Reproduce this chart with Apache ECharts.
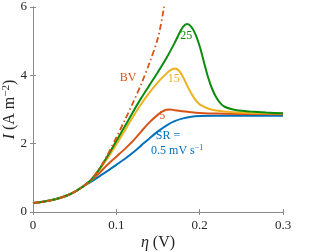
<!DOCTYPE html>
<html><head><meta charset="utf-8">
<script src="https://cdn.jsdelivr.net/npm/echarts@6/dist/echarts.min.js"></script>
<style>html,body{margin:0;padding:0;background:#fff}#c{width:312px;height:252px}</style>
</head><body><div id="c"></div>
<script>
// eta (V), I (A m^-2)
const common = [[0,0.26],[0.01,0.29],[0.02,0.335],[0.03,0.395],[0.04,0.475],[0.05,0.59],[0.06,0.745]];
const bv = [[0.07,0.96],[0.08,1.28],[0.09,1.7],[0.10,2.18],[0.11,2.68],[0.12,3.2],[0.13,3.75],[0.14,4.38],[0.15,5.1],[0.157,5.95],[0.162,6.6]];
const sr25 = [[0.07,0.95],[0.08,1.27],[0.09,1.66],[0.10,2.08],[0.11,2.5],[0.12,2.93],[0.13,3.34],[0.14,3.72],[0.15,4.1],[0.16,4.5],[0.17,4.95],[0.175,5.2],[0.18,5.42],[0.185,5.5],[0.19,5.42],[0.195,5.2],[0.2,4.85],[0.205,4.4],[0.21,3.95],[0.215,3.6],[0.22,3.35],[0.225,3.18],[0.23,3.08],[0.24,3.0],[0.25,2.96],[0.26,2.94],[0.28,2.91],[0.3,2.89]];
const sr15 = [[0.07,0.94],[0.08,1.25],[0.09,1.6],[0.10,1.98],[0.11,2.38],[0.12,2.79],[0.13,3.17],[0.14,3.5],[0.15,3.8],[0.16,4.05],[0.165,4.15],[0.17,4.2],[0.175,4.14],[0.18,3.95],[0.185,3.7],[0.19,3.47],[0.195,3.28],[0.2,3.15],[0.21,3.03],[0.22,2.97],[0.24,2.92],[0.26,2.9],[0.3,2.88]];
const sr5 = [[0.07,0.92],[0.08,1.15],[0.09,1.4],[0.10,1.62],[0.11,1.84],[0.12,2.08],[0.13,2.36],[0.14,2.63],[0.15,2.85],[0.155,2.94],[0.16,2.99],[0.165,3.0],[0.17,2.98],[0.18,2.95],[0.19,2.92],[0.2,2.9],[0.22,2.88],[0.25,2.87],[0.3,2.86]];
const sr05 = [[0.07,0.89],[0.08,1.05],[0.09,1.21],[0.10,1.38],[0.11,1.55],[0.12,1.74],[0.13,1.95],[0.14,2.16],[0.15,2.36],[0.16,2.53],[0.17,2.66],[0.18,2.74],[0.19,2.79],[0.2,2.81],[0.22,2.82],[0.3,2.82]];
const xTicks = [0, 0.1, 0.2, 0.3];
const yTicks = [0, 2, 4, 6];
// label anchors [eta, I, text]
const labels = [
  {name:'bv', at:[0.114,3.92], text:'BV'},
  {name:'sr25', at:[0.184,5.15], text:'25'},
  {name:'sr15', at:[0.169,3.9], text:'15'},
  {name:'sr5', at:[0.155,2.8], text:'5'},
  {name:'sr05a', at:[0.162,2.22], text:'SR ='},
  {name:'sr05b', at:[0.173,1.8], text:'0.5 mV s{sup|−1}'}
];

const C = {bv:'#D95319', sr25:'#0C8C0C', sr15:'#EDB120', sr5:'#D95319', sr05:'#0072BD'};
const font = '"Liberation Serif","Times New Roman",serif';
const withCommon = a => common.concat(a);

function lbl(i, color){
  const l = labels[i];
  return {coord:l.at, symbol:'circle', symbolSize:0,
    label:{show:true, position:'inside', formatter:l.text, color:color, fontFamily:font, fontSize:12,
      rich:{sup:{fontSize:8, verticalAlign:'top', color:color, fontFamily:font, padding:[0,0,5,0]}}}};
}
function series(name, data, color, extra, lblIdx){
  const s = {type:'line', name, data, smooth:0.3, showSymbol:false, symbol:'none',
    lineStyle:Object.assign({color, width:2}, extra||{}), clip:true, z:3, animation:false};
  if (lblIdx) s.markPoint = {animation:false, data:lblIdx.map(i=>lbl(i, color))};
  return s;
}
const chart = echarts.init(document.getElementById('c'), null, {renderer:'canvas'});
const axisCommon = {
  axisLine:{show:true, lineStyle:{color:'#8a8a8a', width:1}},
  axisTick:{show:true, inside:true, length:3, lineStyle:{color:'#8a8a8a'}},
  splitLine:{show:false}
};
chart.setOption({
  animation:false,
  grid:{left:33, right:29, top:7, bottom:40, containLabel:false, outerBoundsMode:'none'},
  xAxis:[
    Object.assign({type:'value', min:0, max:0.3, interval:0.1,
      axisLabel:{color:'#262626', fontFamily:font, fontSize:13, margin:7, formatter:v=>String(+v.toFixed(1))},
      name:'{i|η} (V)', nameLocation:'middle', nameGap:23, nameMoveOverlap:false,
      nameTextStyle:{color:'#262626', fontFamily:font, fontSize:16, rich:{i:{fontStyle:'italic', fontFamily:font, fontSize:16, color:'#262626'}}}
    }, axisCommon),
    Object.assign({type:'value', min:0, max:0.3, interval:0.1, position:'top', axisLabel:{show:false}}, axisCommon)
  ],
  yAxis:[
    Object.assign({type:'value', min:0, max:6, interval:2,
      axisLabel:{color:'#262626', fontFamily:font, fontSize:13, margin:6},
      name:'{i|I} (A m{sup|−2})', nameLocation:'middle', nameGap:15, nameRotate:90, nameMoveOverlap:false,
      nameTextStyle:{color:'#262626', fontFamily:font, fontSize:16,
        rich:{i:{fontStyle:'italic', fontFamily:font, fontSize:16, color:'#262626'},
              sup:{fontSize:11, fontFamily:font, color:'#262626', verticalAlign:'top', padding:[0,0,6,0]}}}
    }, axisCommon),
    Object.assign({type:'value', min:0, max:6, interval:2, position:'right', axisLabel:{show:false}}, axisCommon)
  ],
  series:[
    series('SR 0.5', withCommon(sr05), C.sr05, null, [4,5]),
    series('SR 5', withCommon(sr5), C.sr5, null, [3]),
    series('SR 15', withCommon(sr15), C.sr15, null, [2]),
    series('SR 25', withCommon(sr25), C.sr25, null, [1]),
    series('BV', withCommon(bv), C.bv, {type:[6,3,1.5,3], width:1.8}, [0])
  ]
});
</script></body></html>
